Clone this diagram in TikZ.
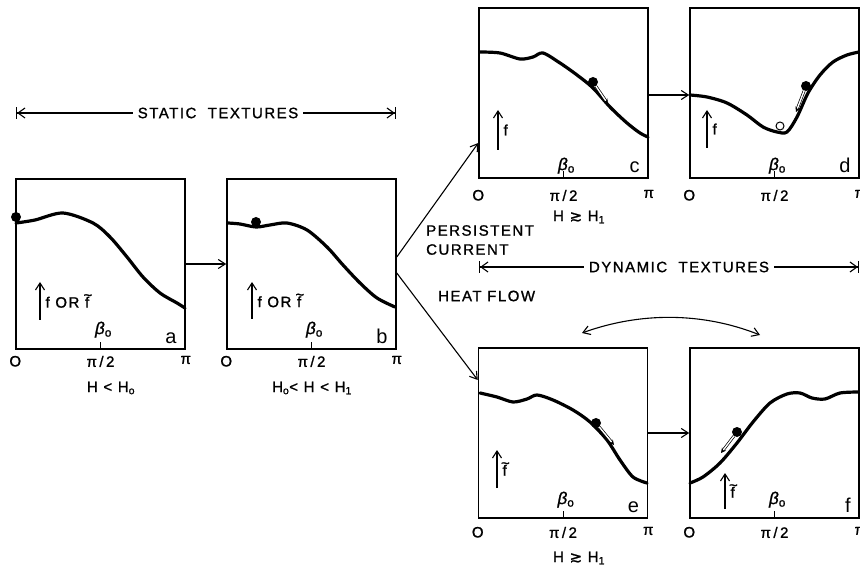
\documentclass[tikz,border=0pt]{standalone}
\usepackage{fontspec}
\setmainfont{Liberation Sans}
\newfontfamily\lettering[LetterSpace=10, FakeBold=1.2]{Liberation Sans}
\newfontfamily\symfont[FakeBold=1.2]{DejaVu Sans}
\usetikzlibrary{positioning, arrows.meta}

\newcommand{\betao}{{\fontsize{17}{18}\selectfont\itshape β\textsubscript{\upshape o}}}
\newcommand{\ftil}{\makebox[0pt][l]{\hspace{-1.6pt}\raisebox{7.5pt}{\textasciitilde}}f}

\begin{document}
\begin{tikzpicture}[
  x=1pt, y=-1pt, >={Straight Barb[length=7pt,width=9pt]},
  font=\lettering\fontsize{15}{17}\selectfont,
  panel/.style={draw, line width=1.5pt, minimum width=169pt,
                minimum height=170pt, inner sep=0pt},
  curve/.style={line width=3.2pt, line cap=round},
  link/.style={->, line width=1.1pt},
  fax/.style={->, line width=1.1pt},
  ball/.style={circle, fill, inner sep=0pt, minimum size=10pt},
  hole/.style={circle, draw, fill=white, line width=1pt, inner sep=0pt, minimum size=8pt},
  slide/.style={double, double distance=1.4pt, line width=0.7pt,
                -{Stealth[length=5pt,width=5pt]}},
  span/.style={line width=1.1pt,
               -{Straight Barb[length=7pt,width=10pt,sep=0pt]Bar[width=12pt]}},
  lbl/.style={inner sep=1pt},
  tag/.style={font=\fontsize{20}{22}\selectfont, inner sep=0pt},
]
\useasboundingbox (0,0) rectangle (860,569);

% Panels
\node[panel] (pa) at (100.5,264) {};
\node[panel] (pb) at (311.5,264) {};
\node[panel] (pc) at (563.5,93) {};
\node[panel] (pd) at (774.5,93) {};
\node[panel] (pe) at (563,433) {};
\node[panel] (pf) at (774.5,433) {};

% Axis marks, beta and panel letters
\foreach \p/\t/\lg/\bg in {pa/a/5pt/11pt, pb/b/5pt/11pt, pc/c/10pt/4pt,
                           pd/d/10pt/4pt, pe/e/7pt/10pt, pf/f/7pt/10pt} {
  \draw[line width=1pt] (\p.south) -- ++(0,-8);
  \node[lbl, below=\lg] (\p-o) at (\p.south west) {O};
  \node[lbl, below=\lg] (\p-h) at (\p.south) {π\,/\,2};
  \node[lbl, below=\lg] (\p-p) at (\p.south east) {π};
  \node[lbl, anchor=south] (\p-beta) at ([xshift=3pt,yshift=\bg]\p.south) {\betao};
  \node[tag, anchor=south east] (\p-tag) at ([xshift=-9pt,yshift=6pt]\p.south east) {\t};
}

% f arrows
\foreach \p/\x/\ya/\yb/\lab in {pa/40/320/282/f OR \ftil, pb/252/319/282/f OR \ftil,
                                pc/498/150/110/f, pd/707/148/110/f,
                                pe/497/488/450/\ftil, pf/725/509/473/\ftil} {
  \coordinate (\p-f0) at (\x,\ya);
  \coordinate (\p-f1) at (\x,\yb);
  \draw[fax] (\p-f0) -- (\p-f1) node[lbl, midway, anchor=west, xshift=4pt] (\p-f) {\lab};
}

% Curves
\draw[curve] plot[smooth] coordinates {(16,223) (35,220) (63,213) (93,223) (110,237)
  (127,257) (143,277) (160,293) (177,303) (185,308)};
\draw[curve] plot[smooth] coordinates {(228,223) (240,224) (256,227) (270,225) (287,223)
  (307,230) (327,247) (343,265) (360,283) (377,298) (395,307)};
\draw[curve] plot[smooth] coordinates {(480,52) (500,53) (520,59) (533,57) (543,53)
  (560,63) (577,75) (593,88) (610,107) (627,123) (640,133) (648,137)};
\draw[curve] plot[smooth] coordinates {(690,95) (707,97) (727,103) (747,115) (763,127)
  (777,132) (787,132) (797,117) (808,93) (820,75) (833,62) (847,55) (859,52)};
\draw[curve] plot[smooth] coordinates {(480,393) (497,397) (513,402) (527,399) (537,395)
  (553,400) (573,410) (590,422) (607,440) (620,460) (633,477) (647,483)};
\draw[curve] plot[smooth] coordinates {(690,483) (703,477) (720,463) (737,443) (753,422)
  (770,403) (787,394) (800,393) (812,398) (825,399) (840,393) (859,392)};

% Balls and slide arrows
\node[ball] (ba) at (16,217) {};
\node[ball] (bb) at (256,222) {};
\node[ball] (bc) at (593,82) {};
\node[ball] (bd) at (806,86) {};
\node[hole] (hd) at (780,126) {};
\node[ball] (be) at (596,423) {};
\node[ball] (bf) at (737,432) {};
\coordinate (sc) at (608,104);
\coordinate (sd) at (796,112);
\coordinate (se) at (614,445);
\coordinate (sf) at (721,453);
\draw[slide] (bc) -- (sc);
\draw[slide] (bd) -- (sd);
\draw[slide] (be) -- (se);
\draw[slide] (bf) -- (sf);

% Links between panels
\draw[link] (pa) -- (pb);
\draw[link] ([yshift=7pt]pb.east) -- ([yshift=-50pt]pc.west);
\draw[link] ([yshift=-9pt]pb.east) -- ([yshift=53pt]pe.west);
\draw[link] ([yshift=-2pt]pc.east) -- ([yshift=-2pt]pd.west);
\draw[link] (pe) -- (pf);

% Swap arc
\coordinate (sw0) at (582,333);
\coordinate (sw1) at (760,335);
\draw[<->, line width=1.1pt] (sw0) .. controls (640,312) and (702,312) .. (sw1);

% Texture spans
\node[lbl, inner sep=5pt] (st) at (218,113) {STATIC\ \ TEXTURES};
\coordinate (st0) at (16,113);
\coordinate (st1) at (396,113);
\draw[span] (st) -- (st0);
\draw[span] (st) -- (st1);
\node[lbl, inner sep=5pt] (dy) at (679,267) {DYNAMIC\ \ TEXTURES};
\coordinate (dy0) at (479,267);
\coordinate (dy1) at (859,267);
\draw[span] (dy) -- (dy0);
\draw[span] (dy) -- (dy1);

% Labels
\node[lbl, anchor=north west, align=left, font=\lettering\fontsize{15}{19}\selectfont]
  (pcur) at (425,224) {PERSISTENT\\CURRENT};
\node[lbl, anchor=west] (heat) at (437,296) {HEAT FLOW};
\node[lbl] (ha) at (111,388) {H < H\textsubscript{o}};
\node[lbl] (hb) at (312,388) {H\textsubscript{o}< H < H\textsubscript{1}};
\node[lbl] (hc) at (579,217) {H {\symfont ≳} H\textsubscript{1}};
\node[lbl] (he) at (579,558) {H {\symfont ≳} H\textsubscript{1}};

\end{tikzpicture}
\end{document}
